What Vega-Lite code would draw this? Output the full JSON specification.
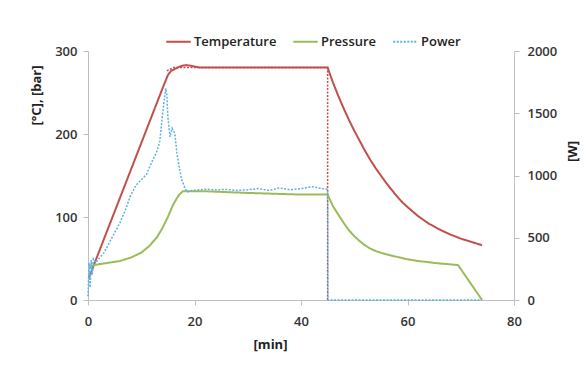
{
  "$schema": "https://vega.github.io/schema/vega-lite/v6.json",
  "width": 426,
  "height": 249,
  "autosize": {"type": "none"},
  "padding": {"left": 88, "top": 51, "right": 72, "bottom": 77},
  "background": "white",
  "config": {
    "view": {"stroke": null},
    "font": "Open Sans",
    "axis": {
      "grid": false,
      "labelFlush": false,
      "domainColor": "#bfbfbf",
      "tickColor": "#bfbfbf",
      "tickSize": 5,
      "labelFont": "Open Sans",
      "labelFontSize": 13,
      "labelFontWeight": 600,
      "labelColor": "#333333",
      "titleFont": "Open Sans",
      "titleFontSize": 13,
      "titleFontWeight": "bold",
      "titleColor": "#222222"
    }
  },
  "datasets": {
    "main": [
      {"t": 0.2, "v": 27, "series": "Temperature"},
      {"t": 2, "v": 57, "series": "Temperature"},
      {"t": 4, "v": 90, "series": "Temperature"},
      {"t": 6, "v": 123, "series": "Temperature"},
      {"t": 8, "v": 156, "series": "Temperature"},
      {"t": 10, "v": 189, "series": "Temperature"},
      {"t": 12, "v": 222, "series": "Temperature"},
      {"t": 14, "v": 255, "series": "Temperature"},
      {"t": 15, "v": 271, "series": "Temperature"},
      {"t": 15.6, "v": 276, "series": "Temperature"},
      {"t": 16.5, "v": 279, "series": "Temperature"},
      {"t": 17.5, "v": 282, "series": "Temperature"},
      {"t": 18.5, "v": 283, "series": "Temperature"},
      {"t": 19.5, "v": 282, "series": "Temperature"},
      {"t": 21, "v": 280, "series": "Temperature"},
      {"t": 25, "v": 280, "series": "Temperature"},
      {"t": 30, "v": 280, "series": "Temperature"},
      {"t": 35, "v": 280, "series": "Temperature"},
      {"t": 40, "v": 280, "series": "Temperature"},
      {"t": 45, "v": 280, "series": "Temperature"},
      {"t": 46, "v": 262, "series": "Temperature"},
      {"t": 47, "v": 246, "series": "Temperature"},
      {"t": 48, "v": 231, "series": "Temperature"},
      {"t": 49, "v": 217, "series": "Temperature"},
      {"t": 50, "v": 204, "series": "Temperature"},
      {"t": 51, "v": 192, "series": "Temperature"},
      {"t": 52, "v": 180, "series": "Temperature"},
      {"t": 53, "v": 169, "series": "Temperature"},
      {"t": 54, "v": 159, "series": "Temperature"},
      {"t": 55, "v": 150, "series": "Temperature"},
      {"t": 56, "v": 141, "series": "Temperature"},
      {"t": 57, "v": 133, "series": "Temperature"},
      {"t": 58, "v": 125, "series": "Temperature"},
      {"t": 59, "v": 118, "series": "Temperature"},
      {"t": 60, "v": 112, "series": "Temperature"},
      {"t": 62, "v": 101, "series": "Temperature"},
      {"t": 64, "v": 92, "series": "Temperature"},
      {"t": 66, "v": 85, "series": "Temperature"},
      {"t": 68, "v": 79, "series": "Temperature"},
      {"t": 70, "v": 74, "series": "Temperature"},
      {"t": 72, "v": 70, "series": "Temperature"},
      {"t": 74, "v": 66, "series": "Temperature"},
      {"t": 0.3, "v": 40, "series": "Pressure"},
      {"t": 1, "v": 42, "series": "Pressure"},
      {"t": 2, "v": 43, "series": "Pressure"},
      {"t": 4, "v": 45, "series": "Pressure"},
      {"t": 6, "v": 47, "series": "Pressure"},
      {"t": 8, "v": 51, "series": "Pressure"},
      {"t": 10, "v": 57, "series": "Pressure"},
      {"t": 11.5, "v": 65, "series": "Pressure"},
      {"t": 13, "v": 76, "series": "Pressure"},
      {"t": 14, "v": 87, "series": "Pressure"},
      {"t": 15, "v": 100, "series": "Pressure"},
      {"t": 16, "v": 115, "series": "Pressure"},
      {"t": 17, "v": 126, "series": "Pressure"},
      {"t": 17.8, "v": 131, "series": "Pressure"},
      {"t": 19, "v": 131, "series": "Pressure"},
      {"t": 22, "v": 131, "series": "Pressure"},
      {"t": 26, "v": 130, "series": "Pressure"},
      {"t": 30, "v": 129, "series": "Pressure"},
      {"t": 35, "v": 128, "series": "Pressure"},
      {"t": 40, "v": 127, "series": "Pressure"},
      {"t": 45, "v": 127, "series": "Pressure"},
      {"t": 46, "v": 113, "series": "Pressure"},
      {"t": 47, "v": 103, "series": "Pressure"},
      {"t": 48, "v": 93, "series": "Pressure"},
      {"t": 49, "v": 84, "series": "Pressure"},
      {"t": 50, "v": 77, "series": "Pressure"},
      {"t": 51, "v": 71, "series": "Pressure"},
      {"t": 52, "v": 66, "series": "Pressure"},
      {"t": 53, "v": 62, "series": "Pressure"},
      {"t": 54, "v": 59, "series": "Pressure"},
      {"t": 56, "v": 55, "series": "Pressure"},
      {"t": 58, "v": 52, "series": "Pressure"},
      {"t": 60, "v": 49, "series": "Pressure"},
      {"t": 62, "v": 47, "series": "Pressure"},
      {"t": 64, "v": 45.5, "series": "Pressure"},
      {"t": 66, "v": 44, "series": "Pressure"},
      {"t": 68, "v": 43, "series": "Pressure"},
      {"t": 69.5, "v": 42, "series": "Pressure"},
      {"t": 71, "v": 28, "series": "Pressure"},
      {"t": 72.5, "v": 14, "series": "Pressure"},
      {"t": 74, "v": 0, "series": "Pressure"}
    ],
    "setpoint": [
      {"t": 14.8, "v": 276},
      {"t": 16, "v": 280},
      {"t": 45, "v": 280},
      {"t": 45, "v": 0}
    ],
    "power": [
      {"t": 0, "w": 30, "series": "Power"},
      {"t": 0.2, "w": 300, "series": "Power"},
      {"t": 0.4, "w": 100, "series": "Power"},
      {"t": 0.6, "w": 320, "series": "Power"},
      {"t": 0.8, "w": 200, "series": "Power"},
      {"t": 1, "w": 330, "series": "Power"},
      {"t": 1.5, "w": 300, "series": "Power"},
      {"t": 2, "w": 330, "series": "Power"},
      {"t": 3, "w": 380, "series": "Power"},
      {"t": 4, "w": 460, "series": "Power"},
      {"t": 5, "w": 540, "series": "Power"},
      {"t": 6, "w": 620, "series": "Power"},
      {"t": 7, "w": 720, "series": "Power"},
      {"t": 8, "w": 840, "series": "Power"},
      {"t": 9, "w": 920, "series": "Power"},
      {"t": 10, "w": 965, "series": "Power"},
      {"t": 11, "w": 1010, "series": "Power"},
      {"t": 12, "w": 1110, "series": "Power"},
      {"t": 13, "w": 1200, "series": "Power"},
      {"t": 13.5, "w": 1280, "series": "Power"},
      {"t": 13.9, "w": 1450, "series": "Power"},
      {"t": 14.3, "w": 1600, "series": "Power"},
      {"t": 14.6, "w": 1700, "series": "Power"},
      {"t": 14.8, "w": 1650, "series": "Power"},
      {"t": 15, "w": 1470, "series": "Power"},
      {"t": 15.4, "w": 1310, "series": "Power"},
      {"t": 15.8, "w": 1380, "series": "Power"},
      {"t": 16.3, "w": 1340, "series": "Power"},
      {"t": 16.7, "w": 1180, "series": "Power"},
      {"t": 17.2, "w": 1050, "series": "Power"},
      {"t": 17.6, "w": 965, "series": "Power"},
      {"t": 18.2, "w": 900, "series": "Power"},
      {"t": 18.6, "w": 867, "series": "Power"},
      {"t": 19.5, "w": 880, "series": "Power"},
      {"t": 20.5, "w": 883, "series": "Power"},
      {"t": 22, "w": 890, "series": "Power"},
      {"t": 24, "w": 885, "series": "Power"},
      {"t": 26, "w": 888, "series": "Power"},
      {"t": 28, "w": 880, "series": "Power"},
      {"t": 30, "w": 885, "series": "Power"},
      {"t": 32, "w": 895, "series": "Power"},
      {"t": 34, "w": 880, "series": "Power"},
      {"t": 36, "w": 900, "series": "Power"},
      {"t": 38, "w": 885, "series": "Power"},
      {"t": 40, "w": 895, "series": "Power"},
      {"t": 42, "w": 910, "series": "Power"},
      {"t": 44, "w": 895, "series": "Power"},
      {"t": 45, "w": 890, "series": "Power"},
      {"t": 45.05, "w": 0, "series": "Power"},
      {"t": 74, "w": 0, "series": "Power"}
    ]
  },
  "layer": [
    {
      "data": {"name": "setpoint"},
      "mark": {"type": "line", "color": "#c0504d", "strokeWidth": 1.5, "strokeDash": [2, 1.5]},
      "encoding": {
        "x": {"field": "t", "type": "quantitative", "scale": {"domain": [0, 80], "nice": false}},
        "y": {"field": "v", "type": "quantitative", "scale": {"domain": [0, 300], "nice": false}, "axis": null}
      }
    },
    {
      "data": {"name": "main"},
      "mark": {"type": "line", "strokeWidth": 2},
      "encoding": {
        "x": {"field": "t", "type": "quantitative", "scale": {"domain": [0, 80], "nice": false},
          "axis": {"title": "[min]", "values": [0, 20, 40, 60, 80], "labelPadding": 10, "titleX": 182, "titleY": 44, "titleBaseline": "middle"}},
        "y": {"field": "v", "type": "quantitative", "scale": {"domain": [0, 300], "nice": false},
          "axis": {"title": "[°C],  [bar]", "values": [0, 100, 200, 300], "labelPadding": 6, "titleX": -52, "titleY": 44, "titleAngle": -90, "titleAlign": "center", "titleBaseline": "middle"}},
        "color": {"field": "series", "type": "nominal",
          "scale": {"domain": ["Temperature", "Pressure", "Power"], "range": ["#c0504d", "#9bbb59", "#5ab3e3"]},
          "legend": {"title": null, "orient": "none", "legendX": 77, "legendY": -23, "direction": "horizontal",
            "symbolType": "stroke", "symbolSize": 600, "symbolStrokeWidth": 2, "labelFontSize": 13, "labelFontWeight": 600, "labelColor": "#222222", "labelFont": "Open Sans", "columnPadding": 12, "labelOffset": 2}},
        "strokeDash": {"field": "series", "type": "nominal",
          "scale": {"domain": ["Temperature", "Pressure", "Power"], "range": [[1, 0], [1, 0], [2, 1.5]]},
          "legend": {"title": null, "orient": "none", "legendX": 77, "legendY": -23, "direction": "horizontal",
            "symbolType": "stroke", "symbolSize": 600, "symbolStrokeWidth": 2, "labelFontSize": 13, "labelFontWeight": 600, "labelColor": "#222222", "labelFont": "Open Sans", "columnPadding": 12, "labelOffset": 2}}
      }
    },
    {
      "data": {"name": "power"},
      "mark": {"type": "line", "strokeWidth": 1.5},
      "encoding": {
        "x": {"field": "t", "type": "quantitative", "scale": {"domain": [0, 80], "nice": false}},
        "y": {"field": "w", "type": "quantitative", "scale": {"domain": [0, 2000], "nice": false},
          "axis": {"orient": "right", "title": "[W]", "format": "d", "values": [0, 500, 1000, 1500, 2000], "labelPadding": 8, "titleX": 58, "titleY": 100, "titleAngle": -90, "titleAlign": "center", "titleBaseline": "middle"}},
        "color": {"field": "series", "type": "nominal"},
        "strokeDash": {"field": "series", "type": "nominal"}
      }
    }
  ],
  "resolve": {"scale": {"y": "independent"}}
}
